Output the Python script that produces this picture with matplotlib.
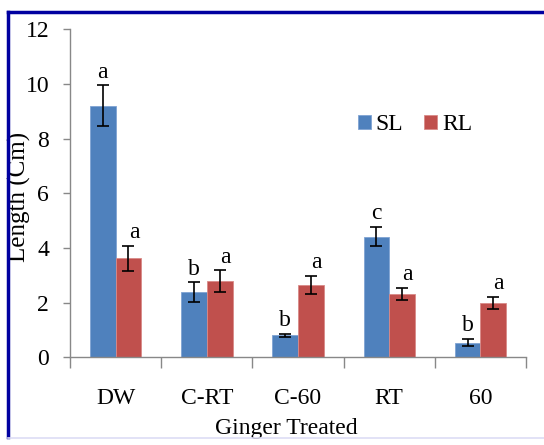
import matplotlib
matplotlib.use("Agg")
import matplotlib.pyplot as plt
import numpy as np
from matplotlib.lines import Line2D

categories = ["DW", "C-RT", "C-60", "RT", "60"]
sl_values = [9.2, 2.38, 0.81, 4.42, 0.54]
sl_errors = [0.75, 0.36, 0.05, 0.36, 0.13]
rl_values = [3.62, 2.78, 2.64, 2.32, 1.98]
rl_errors = [0.45, 0.40, 0.33, 0.23, 0.22]
sl_letters = ["a", "b", "b", "c", "b"]
rl_letters = ["a", "a", "a", "a", "a"]
yticks = [0, 2, 4, 6, 8, 10, 12]

plt.rcParams['font.family'] = ['Liberation Serif', 'DejaVu Serif']
FS = 17

fig = plt.figure(figsize=(5.44, 4.45), dpi=100)
ax = fig.add_axes([0.1287, 0.197, 0.967 - 0.1287, 0.934 - 0.197])

x = np.arange(len(categories))
w = 0.282
blue = "#4F81BD"
red = "#C0504D"
ax.bar(x - w / 2, sl_values, w, color=blue, edgecolor="#7FA3D3", linewidth=0.6, label="SL", zorder=2)
ax.bar(x + w / 2, rl_values, w, color=red, edgecolor="#D98A88", linewidth=0.6, label="RL", zorder=2)
ax.errorbar(x - w / 2, sl_values, yerr=sl_errors, fmt="none", ecolor="black", elinewidth=1.2, capsize=4, capthick=1.2, zorder=3)
ax.errorbar(x + w / 2, rl_values, yerr=rl_errors, fmt="none", ecolor="black", elinewidth=1.2, capsize=4, capthick=1.2, zorder=3)

for xi, v, e, t in zip(x - w / 2, sl_values, sl_errors, sl_letters):
    ax.annotate(t, (xi, v + e), xytext=(0, 2), textcoords="offset points",
                ha="center", va="bottom", fontsize=FS)
for xi, v, e, t in zip(x + w / 2, rl_values, rl_errors, rl_letters):
    ax.annotate(t, (xi + 0.06, v + e), xytext=(0, 2), textcoords="offset points",
                ha="center", va="bottom", fontsize=FS)

ax.set_xlim(-0.5, len(categories) - 0.5)
ax.set_ylim(0, 12)
ax.set_yticks(yticks)
ax.set_yticklabels([str(t) for t in yticks], fontsize=FS)
ax.set_xticks(x)
ax.set_xticklabels(categories, fontsize=FS)
ax.tick_params(axis="x", length=0, pad=22)
ax.set_xticks(np.arange(-0.5, len(categories)), minor=True)
ax.tick_params(axis="x", which="minor", length=8, color="#888888", width=1)
ax.tick_params(axis="y", length=5, color="#888888", width=1, pad=10)

for s in ["top", "right"]:
    ax.spines[s].set_visible(False)
for s in ["left", "bottom"]:
    ax.spines[s].set_color("#888888")
    ax.spines[s].set_linewidth(1)

ax.set_ylabel("Length (Cm)", fontsize=FS + 1)
ax.yaxis.set_label_coords(-0.085, 0.49)
ax.set_xlabel("Ginger Treated", fontsize=FS)
ax.xaxis.set_label_coords(0.474, -0.185)

ax.legend(loc="center", bbox_to_anchor=(0.763, 0.72), bbox_transform=fig.transFigure,
          ncol=2, frameon=False, fontsize=FS, handlelength=0.55, handleheight=0.55,
          handletextpad=0.2, columnspacing=0.9)

# frame lines around figure (top & left dark blue, bottom faint)
fig.add_artist(Line2D([7.5 / 544, 1.0], [1 - 11.5 / 445, 1 - 11.5 / 445], color="#0000A0", lw=2.5, transform=fig.transFigure))
fig.add_artist(Line2D([7.5 / 544, 7.5 / 544], [1 - 11.5 / 445, 1 - 437 / 445], color="#0000A0", lw=2.5, transform=fig.transFigure))
fig.add_artist(Line2D([7.5 / 544, 1.0], [1 - 437.5 / 445, 1 - 437.5 / 445], color="#DDDDF5", lw=1.2, transform=fig.transFigure))

fig.savefig("out.png", dpi=100)
